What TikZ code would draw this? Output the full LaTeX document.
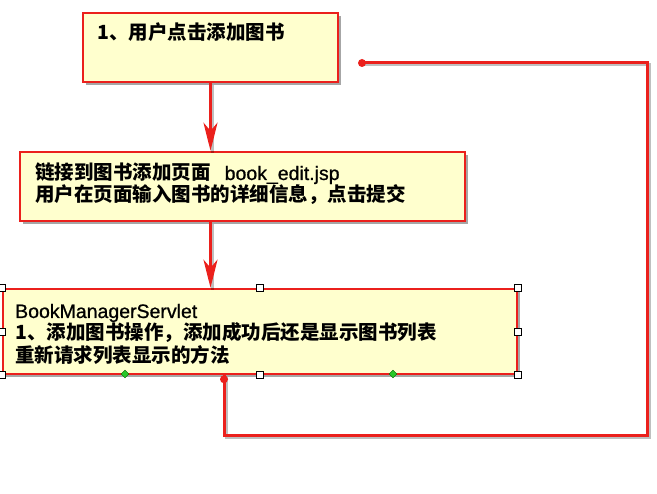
\documentclass[tikz,border=0pt]{standalone}
\usepackage{fontspec}
\newfontfamily\cjk{Noto Sans CJK SC}
\newfontface\lat[FakeBold=0.8]{Liberation Sans}
\usetikzlibrary{arrows.meta,shadows,shapes.geometric}
\definecolor{boxred}{RGB}{235,32,28}
\definecolor{boxfill}{RGB}{255,255,206}
\definecolor{hgreen}{RGB}{40,200,40}
\begin{document}
\begin{tikzpicture}[x=1pt,y=-1pt,
  box/.style={draw=boxred, line width=2.5pt, fill=boxfill, inner sep=0,
    drop shadow={shadow xshift=3pt, shadow yshift=-3pt, opacity=0.35, fill=black}},
  txt/.style={anchor=base west, inner sep=0, font=\cjk\bfseries\fontsize{19.5}{22}\selectfont},
  conn/.style={draw=boxred, line width=3pt},
  connshadow/.style={draw=black, opacity=0.25, line width=3pt, transform canvas={xshift=2pt,yshift=-2pt}},
  tip/.style={-{Stealth[length=28pt,width=14pt,inset=8pt]}},
  hnd/.style={draw=black, fill=white, minimum size=7pt, inner sep=0, line width=0.6pt},
  gdia/.style={diamond, draw=black!60!green, fill=hgreen, minimum size=8pt, inner sep=0, line width=0.4pt},
  dot/.style={circle, fill=boxred, minimum size=8pt, inner sep=0}
]
\useasboundingbox (0,0) rectangle (657,494);

% boxes
\node[box, minimum width=255pt, minimum height=69pt] (b1) at (210.5,47.5) {};
\node[box, minimum width=445pt, minimum height=69pt] (b2) at (242.5,186.5) {};
\node[box, minimum width=514pt, minimum height=85pt] (b3) at (260,331.5) {};

% texts
\node[txt] (t1) at (97,40) {1、用户点击添加图书};
\node[txt] (t2a) at (35,180) {链接到图书添加页面\hspace{14pt}{\lat book\_edit.jsp}};
\node[txt] (t2b) at (35,202) {用户在页面输入图书的详细信息，点击提交};
\node[txt] (t3a) at (15,318) {{\lat BookManagerServlet}};
\node[txt] (t3b) at (15,340) {1、添加图书操作，添加成功后还是显示图书列表};
\node[txt] (t3c) at (15,363) {重新请求列表显示的方法};

% connectors
\coordinate (a1s) at (b1.south);
\coordinate (a2s) at (b2.south -| b1.south);
\coordinate (ls) at ([xshift=-36pt]b3.south);
\coordinate (cr) at (647,436);
\coordinate (le) at (362,63);

\draw[connshadow] (a1s) -- (a1s |- b2.north);
\draw[connshadow] (a2s) -- (a2s |- b3.north);
\draw[connshadow] (ls) |- (cr) |- (le);

\draw[conn, tip] (a1s) -- (a1s |- b2.north);
\draw[conn, tip] (a2s) -- (a2s |- b3.north);
\draw[conn] (ls) |- (cr) |- (le);
\node[dot] (d1) at ([yshift=-4pt]ls) {};
\node[dot] (d2) at (le) {};

% selection handles
\foreach \a/\n in {north west/h1, north/h2, north east/h3, east/h4, south east/h5, south/h6, south west/h7, west/h8}
  \node[hnd] (\n) at (b3.\a) {};
\node[gdia] (g1) at (125,374) {};
\node[gdia] (g2) at (393,374) {};
\end{tikzpicture}
\end{document}
